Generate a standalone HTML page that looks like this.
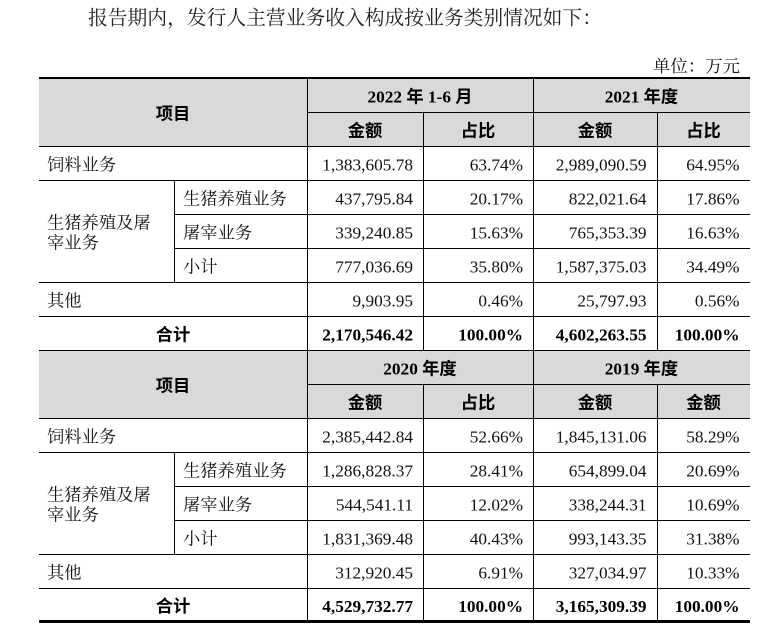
<!DOCTYPE html>
<html><head><meta charset="utf-8">
<style>
html,body{margin:0;padding:0;background:#fff;}
svg{display:block;}
.t{font-family:"Liberation Serif","Noto Serif CJK SC",serif;font-size:17.3px;fill:#111;}
.b{font-family:"Liberation Serif","Noto Sans CJK SC",sans-serif;font-size:17.3px;font-weight:bold;fill:#000;}
.r{text-anchor:end;}
.c{text-anchor:middle;}
.ttl{font-family:"Liberation Serif","Noto Serif CJK SC",serif;font-size:19.8px;fill:#222;}
</style></head>
<body>
<svg width="783" height="630" viewBox="0 0 783 630" xmlns="http://www.w3.org/2000/svg">
<text class="ttl" x="88" y="24.5" textLength="514" lengthAdjust="spacing">报告期内，发行人主营业务收入构成按业务类别情况如下：</text>
<text class="t" x="653" y="72" textLength="87" lengthAdjust="spacing">单位：万元</text>

<!-- gray header fills -->
<rect x="39" y="79" width="711" height="67" fill="#d9d9d9"/>
<rect x="39" y="350" width="711" height="68" fill="#d9d9d9"/>

<g stroke="#000" stroke-width="1" shape-rendering="crispEdges">
<rect x="39" y="77" width="711" height="2" fill="#000" stroke="none"/>
<rect x="39" y="620" width="711" height="3" fill="#000" stroke="none"/>
<line x1="307" y1="112.5" x2="750" y2="112.5"/>
<line x1="39" y1="146.5" x2="750" y2="146.5"/>
<line x1="39" y1="180.5" x2="750" y2="180.5"/>
<line x1="174" y1="214.5" x2="750" y2="214.5"/>
<line x1="174" y1="248.5" x2="750" y2="248.5"/>
<line x1="39" y1="282.5" x2="750" y2="282.5"/>
<line x1="39" y1="316.5" x2="750" y2="316.5"/>
<line x1="39" y1="350.5" x2="750" y2="350.5"/>
<line x1="307" y1="384.5" x2="750" y2="384.5"/>
<line x1="39" y1="418.5" x2="750" y2="418.5"/>
<line x1="39" y1="452.5" x2="750" y2="452.5"/>
<line x1="174" y1="486.5" x2="750" y2="486.5"/>
<line x1="174" y1="520.5" x2="750" y2="520.5"/>
<line x1="39" y1="554.5" x2="750" y2="554.5"/>
<line x1="39" y1="588.5" x2="750" y2="588.5"/>
<line x1="307.5" y1="78" x2="307.5" y2="621"/>
<line x1="533.5" y1="78" x2="533.5" y2="621"/>
<line x1="423.5" y1="112" x2="423.5" y2="350"/>
<line x1="423.5" y1="384" x2="423.5" y2="621"/>
<line x1="657.5" y1="112" x2="657.5" y2="350"/>
<line x1="657.5" y1="384" x2="657.5" y2="621"/>
<line x1="174.5" y1="180" x2="174.5" y2="282"/>
<line x1="174.5" y1="452" x2="174.5" y2="554"/>
</g>

<!-- Table 1 header -->
<text class="b c" x="173" y="119.5">项目</text>
<text class="b c" x="420" y="102.5">2022 年 1-6 月</text>
<text class="b c" x="641.5" y="102.5">2021 年度</text>
<text class="b c" x="365" y="136.5">金额</text>
<text class="b c" x="478" y="136.5">占比</text>
<text class="b c" x="595" y="136.5">金额</text>
<text class="b c" x="703.5" y="136.5">占比</text>

<!-- Table 1 body -->
<text class="t" x="47" y="170.5">饲料业务</text>
<text class="t r" x="413" y="170.5">1,383,605.78</text>
<text class="t r" x="523" y="170.5">63.74%</text>
<text class="t r" x="646.5" y="170.5">2,989,090.59</text>
<text class="t r" x="739.5" y="170.5">64.95%</text>

<text class="t" x="47" y="228.5">生猪养殖及屠</text>
<text class="t" x="47" y="248.5">宰业务</text>

<text class="t" x="183" y="204.5">生猪养殖业务</text>
<text class="t r" x="413" y="204.5">437,795.84</text>
<text class="t r" x="523" y="204.5">20.17%</text>
<text class="t r" x="646.5" y="204.5">822,021.64</text>
<text class="t r" x="739.5" y="204.5">17.86%</text>

<text class="t" x="183" y="238.5">屠宰业务</text>
<text class="t r" x="413" y="238.5">339,240.85</text>
<text class="t r" x="523" y="238.5">15.63%</text>
<text class="t r" x="646.5" y="238.5">765,353.39</text>
<text class="t r" x="739.5" y="238.5">16.63%</text>

<text class="t" x="183" y="272.5">小计</text>
<text class="t r" x="413" y="272.5">777,036.69</text>
<text class="t r" x="523" y="272.5">35.80%</text>
<text class="t r" x="646.5" y="272.5">1,587,375.03</text>
<text class="t r" x="739.5" y="272.5">34.49%</text>

<text class="t" x="47" y="306.5">其他</text>
<text class="t r" x="413" y="306.5">9,903.95</text>
<text class="t r" x="523" y="306.5">0.46%</text>
<text class="t r" x="646.5" y="306.5">25,797.93</text>
<text class="t r" x="739.5" y="306.5">0.56%</text>

<text class="b c" x="173" y="340.5">合计</text>
<text class="b r" x="413" y="340.5">2,170,546.42</text>
<text class="b r" x="523" y="340.5">100.00%</text>
<text class="b r" x="646.5" y="340.5">4,602,263.55</text>
<text class="b r" x="739.5" y="340.5">100.00%</text>

<!-- Table 2 header -->
<text class="b c" x="173" y="391.5">项目</text>
<text class="b c" x="420" y="374.5">2020 年度</text>
<text class="b c" x="641.5" y="374.5">2019 年度</text>
<text class="b c" x="365" y="408.5">金额</text>
<text class="b c" x="478" y="408.5">占比</text>
<text class="b c" x="595" y="408.5">金额</text>
<text class="b c" x="703.5" y="408.5">金额</text>

<!-- Table 2 body -->
<text class="t" x="47" y="442.5">饲料业务</text>
<text class="t r" x="413" y="442.5">2,385,442.84</text>
<text class="t r" x="523" y="442.5">52.66%</text>
<text class="t r" x="646.5" y="442.5">1,845,131.06</text>
<text class="t r" x="739.5" y="442.5">58.29%</text>

<text class="t" x="47" y="500.5">生猪养殖及屠</text>
<text class="t" x="47" y="520.5">宰业务</text>

<text class="t" x="183" y="476.5">生猪养殖业务</text>
<text class="t r" x="413" y="476.5">1,286,828.37</text>
<text class="t r" x="523" y="476.5">28.41%</text>
<text class="t r" x="646.5" y="476.5">654,899.04</text>
<text class="t r" x="739.5" y="476.5">20.69%</text>

<text class="t" x="183" y="510.5">屠宰业务</text>
<text class="t r" x="413" y="510.5">544,541.11</text>
<text class="t r" x="523" y="510.5">12.02%</text>
<text class="t r" x="646.5" y="510.5">338,244.31</text>
<text class="t r" x="739.5" y="510.5">10.69%</text>

<text class="t" x="183" y="544.5">小计</text>
<text class="t r" x="413" y="544.5">1,831,369.48</text>
<text class="t r" x="523" y="544.5">40.43%</text>
<text class="t r" x="646.5" y="544.5">993,143.35</text>
<text class="t r" x="739.5" y="544.5">31.38%</text>

<text class="t" x="47" y="578.5">其他</text>
<text class="t r" x="413" y="578.5">312,920.45</text>
<text class="t r" x="523" y="578.5">6.91%</text>
<text class="t r" x="646.5" y="578.5">327,034.97</text>
<text class="t r" x="739.5" y="578.5">10.33%</text>

<text class="b c" x="173" y="612">合计</text>
<text class="b r" x="413" y="612">4,529,732.77</text>
<text class="b r" x="523" y="612">100.00%</text>
<text class="b r" x="646.5" y="612">3,165,309.39</text>
<text class="b r" x="739.5" y="612">100.00%</text>
</svg>
</body></html>
